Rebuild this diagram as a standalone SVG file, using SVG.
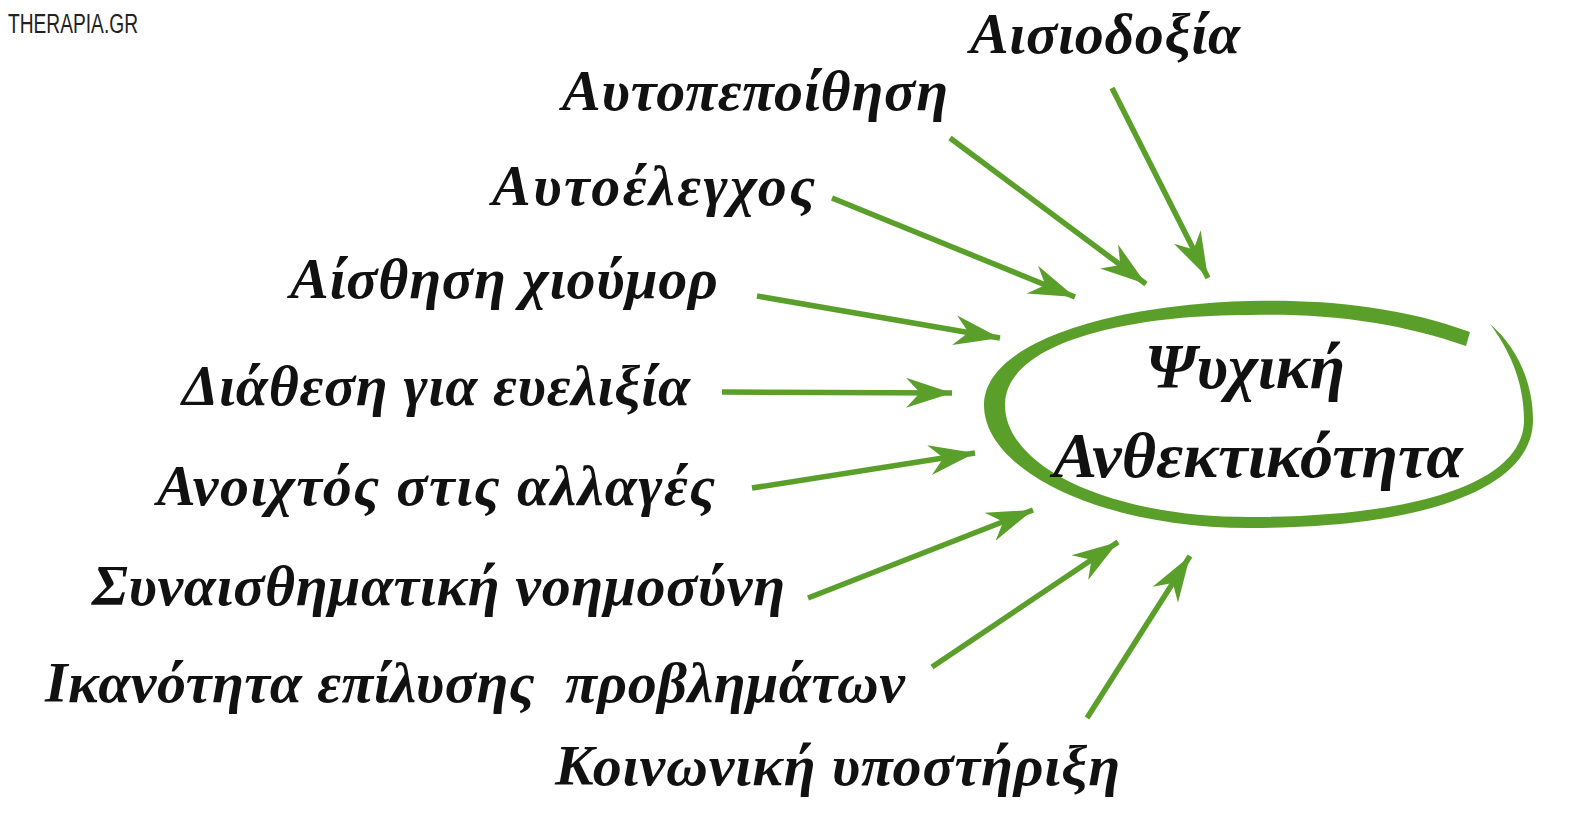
<svg xmlns="http://www.w3.org/2000/svg" width="1582" height="823" viewBox="0 0 1582 823">
<style>
.lbl{font-family:"Liberation Serif","DejaVu Serif",serif;font-style:italic;font-weight:bold;font-size:58px;fill:#111}
.ctr{font-family:"Liberation Serif","DejaVu Serif",serif;font-style:italic;font-weight:bold;font-size:64px;fill:#111}
.wm{font-family:"Liberation Sans","DejaVu Sans",sans-serif;font-size:27px;fill:#222}
.arr{stroke:#5b9f2b;stroke-width:5.5;fill:none;marker-end:url(#ah)}
</style>
<defs>
<marker id="ah" markerUnits="userSpaceOnUse" viewBox="0 0 48 34" markerWidth="48" markerHeight="34" refX="46" refY="17" orient="auto">
<path d="M46,17 L0,2 L14,17 L0,32 Z" fill="#5b9f2b"/>
</marker>
</defs>
<rect width="1582" height="823" fill="#fff"/>
<text class="wm" x="8" y="33" textLength="130" lengthAdjust="spacingAndGlyphs">THERAPIA.GR</text>
<g id="connectors">
<line class="arr" x1="1112" y1="88" x2="1208" y2="278"/>
<line class="arr" x1="950" y1="138" x2="1146" y2="284"/>
<line class="arr" x1="832" y1="198" x2="1075" y2="297"/>
<line class="arr" x1="757" y1="296" x2="1000" y2="338"/>
<line class="arr" x1="722" y1="392" x2="952" y2="393"/>
<line class="arr" x1="752" y1="488" x2="975" y2="453"/>
<line class="arr" x1="808" y1="598" x2="1033" y2="510"/>
<line class="arr" x1="932" y1="667" x2="1118" y2="542"/>
<line class="arr" x1="1087" y1="718" x2="1190" y2="556"/>
</g>
<g id="center">
<path fill="#5b9f2b" d="M1470,332 C1400,306 1320,299 1250,301 C1120,304 984,340 984,405 C984,470 1100,528 1250,528 C1420,528 1533,490 1533,420 C1533,380 1515,345 1490,324 C1508,348 1524,380 1524,420 C1524,485 1410,517 1250,517 C1105,517 1005,465 1005,405 C1005,345 1120,315 1250,315 C1330,313 1400,323 1466,346 Z"/>
<text class="ctr" x="1145" y="388" textLength="200" lengthAdjust="spacingAndGlyphs">Ψυχική</text>
<text class="ctr" x="1053" y="477" textLength="410" lengthAdjust="spacingAndGlyphs">Ανθεκτικότητα</text>
</g>
<g id="n1"><text class="lbl" x="970" y="53" textLength="270">Αισιοδοξία</text></g>
<g id="n2"><text class="lbl" x="562" y="110" textLength="386">Αυτοπεποίθηση</text></g>
<g id="n3"><text class="lbl" x="492" y="205" textLength="323">Αυτοέλεγχος</text></g>
<g id="n4"><text class="lbl" x="290" y="298" textLength="428">Αίσθηση χιούμορ</text></g>
<g id="n5"><text class="lbl" x="182" y="405" textLength="508">Διάθεση για ευελιξία</text></g>
<g id="n6"><text class="lbl" x="157" y="505" textLength="558">Ανοιχτός στις αλλαγές</text></g>
<g id="n7"><text class="lbl" x="92" y="605" textLength="693">Συναισθηματική νοημοσύνη</text></g>
<g id="n8"><text class="lbl" x="45" y="702" textLength="860" xml:space="preserve">Ικανότητα επίλυσης  προβλημάτων</text></g>
<g id="n9"><text class="lbl" x="555" y="785" textLength="565">Κοινωνική υποστήριξη</text></g>
</svg>
